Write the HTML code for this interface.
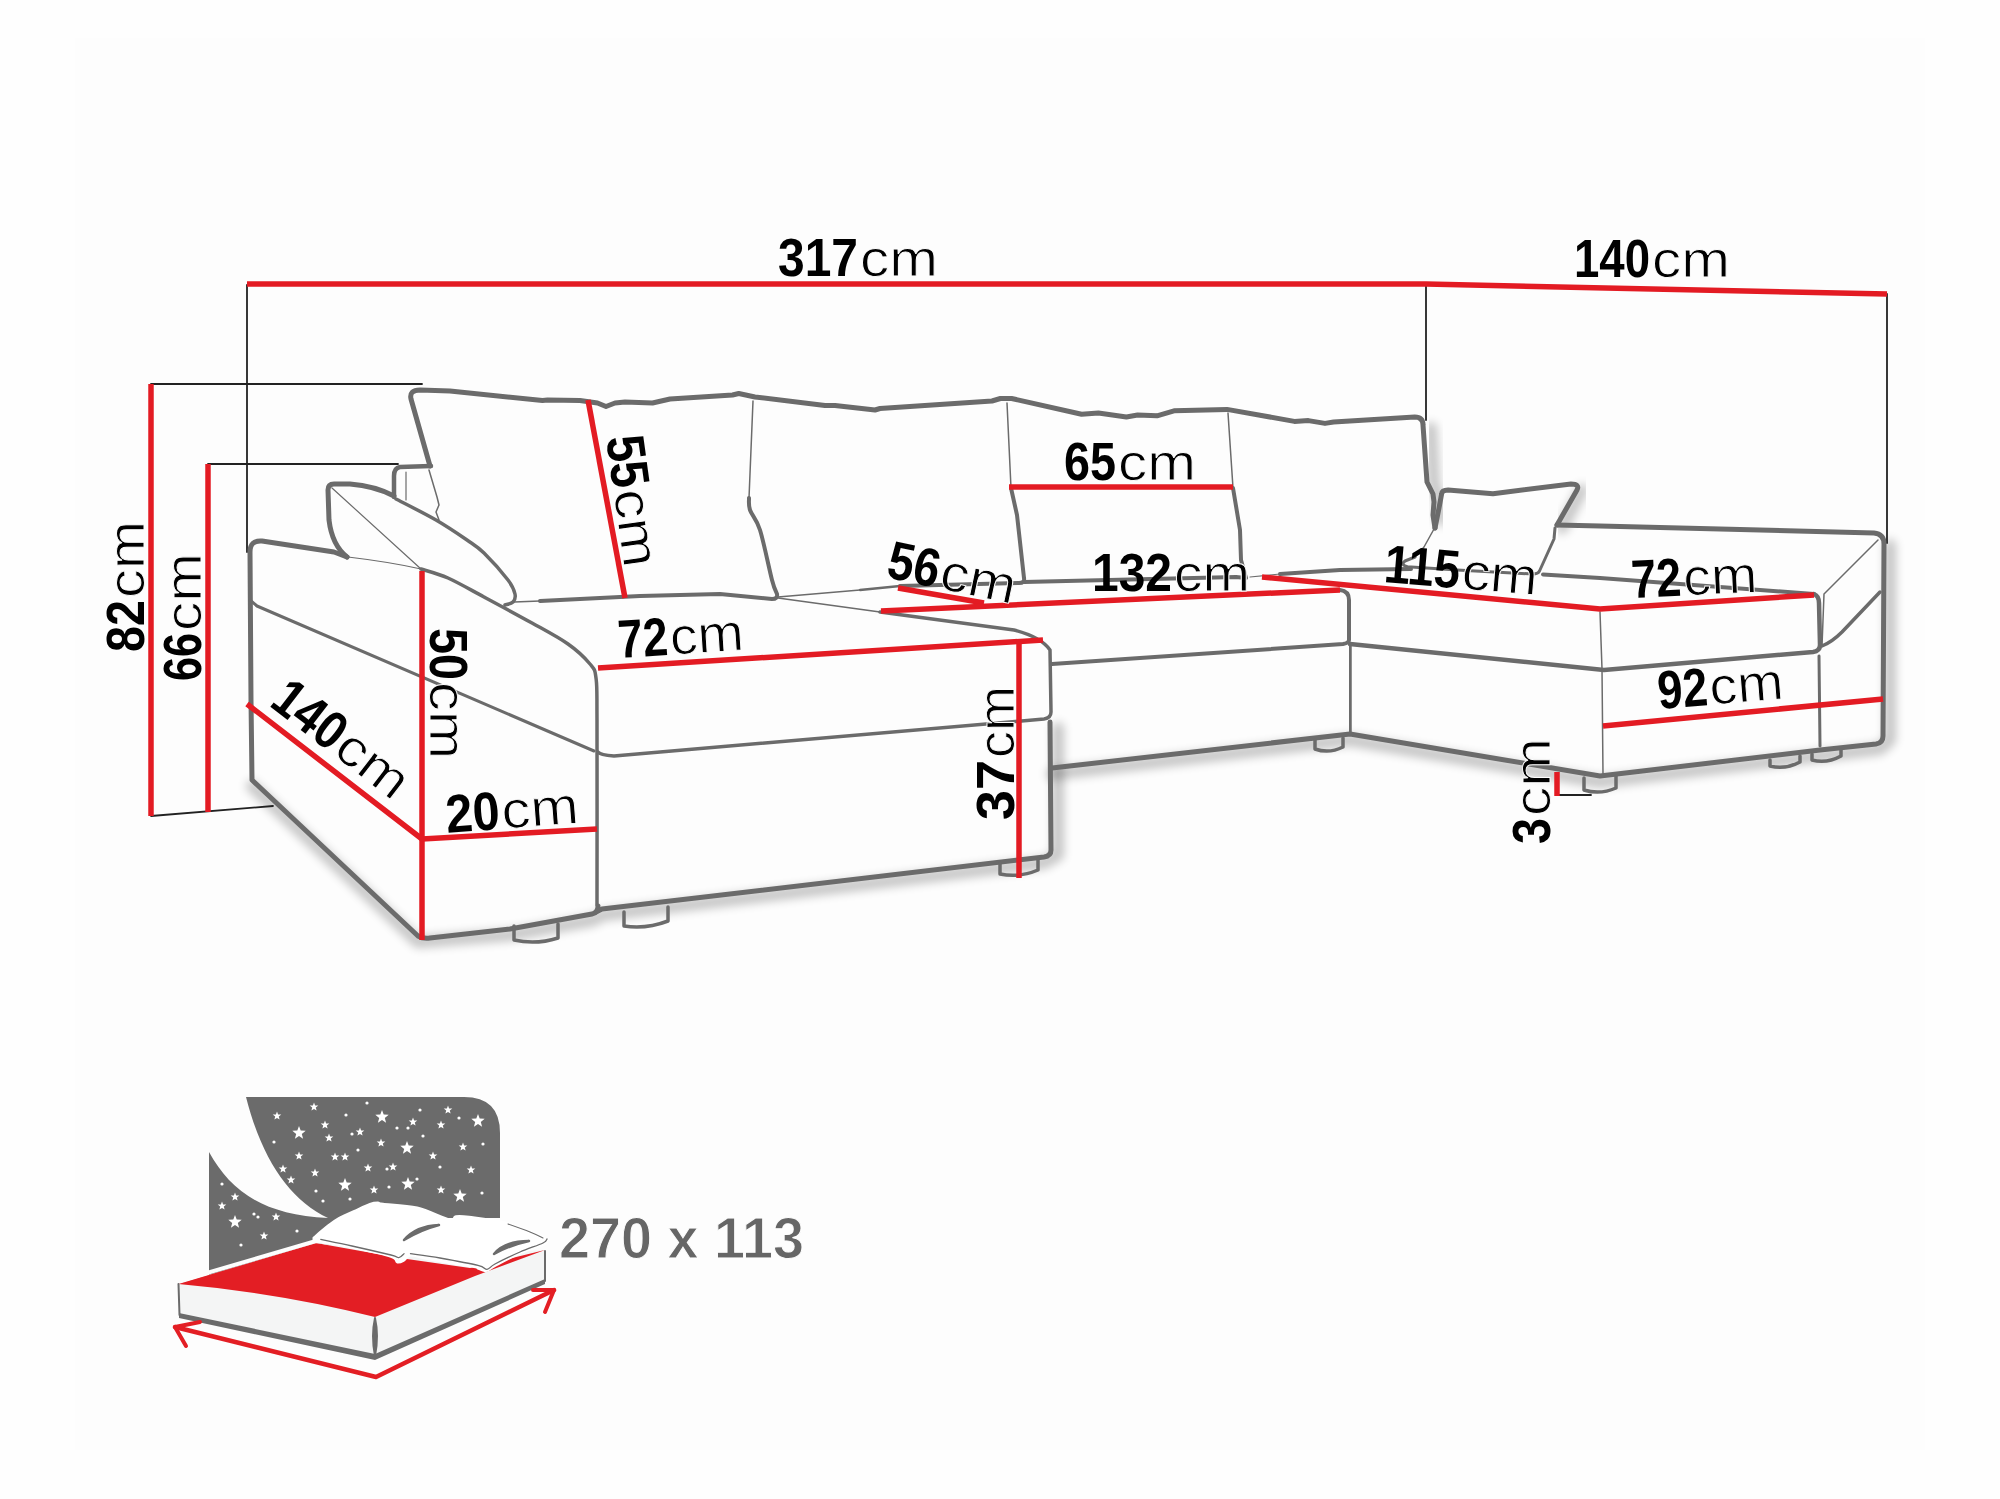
<!DOCTYPE html>
<html><head><meta charset="utf-8"><style>
html,body{margin:0;padding:0;background:#fefefe;}
svg{display:block;}
text{font-family:"Liberation Sans",sans-serif;}
</style></head><body>
<svg width="2000" height="1499" viewBox="0 0 2000 1499">
<rect x="0" y="0" width="2000" height="1499" fill="#fefefe"/>
<rect x="75" y="38" width="1850" height="1412" fill="#fdfdfd"/>
<defs><filter id="blur" x="-20%" y="-50%" width="140%" height="200%"><feGaussianBlur stdDeviation="5"/></filter></defs>
<g fill="none" stroke-linecap="round" stroke-linejoin="round">
<path d="M 252 786 L 418 942 L 510 935 L 594 920 L 602 915 L 1044 863 L 1058 855 L 1058 728" stroke="#000" stroke-width="12" opacity="0.22" filter="url(#blur)"/>
<path d="M 1052 774 L 1350 740 L 1600 782 L 1820 756 L 1880 749 L 1890 740 L 1890 545" stroke="#000" stroke-width="12" opacity="0.22" filter="url(#blur)"/>
<path d="M 1431 428 L 1434 484 L 1440 500 L 1441 520" stroke="#000" stroke-width="12" opacity="0.22" filter="url(#blur)"/>
<path d="M 1582 490 L 1562 528" stroke="#000" stroke-width="12" opacity="0.22" filter="url(#blur)"/>
<path d="M 247 285 L 247 552" stroke="#222" stroke-width="1.8" />
<path d="M 151 384 L 422 384" stroke="#222" stroke-width="1.8" />
<path d="M 208 464 L 398 464" stroke="#222" stroke-width="1.8" />
<path d="M 151 816 L 273 806" stroke="#222" stroke-width="1.8" />
<path d="M 1426 285 L 1426 420" stroke="#222" stroke-width="1.8" />
<path d="M 1887 294 L 1887 543" stroke="#222" stroke-width="1.8" />
<path d="M 1557 795 L 1591 795" stroke="#222" stroke-width="1.8" />
<path d="M 430 466 L 411 399 Q 409 390 420 390 L 450 391 L 542.5 400.5 L 547.5 400 L 580 400.5 L 597.5 403 L 606 406.5 L 615 403 L 625 402 L 652.5 403 L 670 399 L 732.5 395 L 738.75 393.5 L 755 397 L 825 405.5 L 835 405.5 L 875 410 L 880 408.5 L 992 401 L 1000.4 398.5 L 1011.6 398.5 L 1081.6 414.2 L 1098.4 413 L 1126.4 417 L 1137.6 415 L 1157 415.8 L 1174 410.8 L 1227 409.4 L 1294.4 421.4 L 1308.4 420.6 L 1325 423.4 L 1333.6 422 L 1414.8 417 Q 1423 417 1423 425 L 1427 482 L 1433 494 L 1434 502 L 1433 515 L 1435 528" stroke="#6b6b6b" stroke-width="5" />
<path d="M 431 466 L 400 467 Q 394 468 394 476 L 394 497" stroke="#6b6b6b" stroke-width="4.5" />
<path d="M 347 557 Q 332 545 329 520 L 328 490 Q 328 484 334 484 L 350 484 Q 375 486 394 496" stroke="#6b6b6b" stroke-width="5" />
<path d="M 396 499 C 402.7 502.5 424.2 513.2 436.0 520.0 C 447.8 526.8 459.0 534.5 467.0 540.0 C 475.0 545.5 477.2 546.3 484.0 553.0 C 490.8 559.7 502.8 573.2 508.0 580.0 C 513.2 586.8 514.2 590.3 515.0 594.0 C 515.8 597.7 514.7 600.2 513.0 602.0 C 511.3 603.8 506.3 604.5 505.0 605.0 " stroke="#6b6b6b" stroke-width="3.5" />
<path d="M 332 488 L 421 569" stroke="#6b6b6b" stroke-width="1.2" />
<path d="M 348 557 Q 390 562 421 569" stroke="#6b6b6b" stroke-width="1.2" />
<path d="M 421 569 C 425.5 570.5 437.5 573.3 448.0 578.0 C 458.5 582.7 470.0 589.5 484.0 597.0 C 498.0 604.5 518.0 615.2 532.0 623.0 C 546.0 630.8 558.3 637.2 568.0 644.0 C 577.7 650.8 585.3 658.3 590.0 664.0 C 594.7 669.7 594.8 668.7 596.0 678.0 C 597.2 687.3 596.8 682.2 597.0 720.0 C 597.2 757.8 597.0 874.2 597.0 905.0 " stroke="#6b6b6b" stroke-width="3.5" />
<path d="M 347 557 L 334 552 L 262 541 Q 250 540 250 552 L 251 700 L 252 780 L 418 936 Q 423 939 430 938 L 510 929 L 592 914 Q 598 913 598 906" stroke="#6b6b6b" stroke-width="5" />
<path d="M 250 600 L 257 606 L 594 751" stroke="#6b6b6b" stroke-width="3" />
<path d="M 406 472 L 406 500" stroke="#6b6b6b" stroke-width="1.2" />
<path d="M 429 470 L 437 497 L 439 505 L 436 512 L 439 520" stroke="#6b6b6b" stroke-width="1.5" />
<path d="M 753 401 L 749 498" stroke="#6b6b6b" stroke-width="1.5" />
<path d="M 749 498 C 749.2 500.0 748.2 504.7 750.0 510.0 C 751.8 515.3 756.3 518.3 760.0 530.0 C 763.7 541.7 769.2 569.3 772.0 580.0 C 774.8 590.7 776.2 591.7 777.0 594.0  Q 778 599 772 599 L 720 594 L 640 596 L 580 599 L 540 601" stroke="#6b6b6b" stroke-width="4" />
<path d="M 540 601 L 514 602" stroke="#6b6b6b" stroke-width="1.5" />
<path d="M 1007 403 L 1011 488" stroke="#6b6b6b" stroke-width="1.5" />
<path d="M 1011 488 L 1017 515 L 1024 578 Q 1025 583 1019 583 L 900 586" stroke="#6b6b6b" stroke-width="4" />
<path d="M 900 586 L 860 590" stroke="#6b6b6b" stroke-width="2.5" />
<path d="M 860 590 L 778 597" stroke="#6b6b6b" stroke-width="1.5" />
<path d="M 1228 413 L 1233 488" stroke="#6b6b6b" stroke-width="1.5" />
<path d="M 1233 488 L 1240 530 L 1241 560 L 1246 578 L 1236 577 L 1024 582" stroke="#6b6b6b" stroke-width="4" />
<path d="M 1250 577 L 1280 574" stroke="#6b6b6b" stroke-width="1.2" />
<path d="M 1280 574 L 1340 570 L 1411 569" stroke="#6b6b6b" stroke-width="4" />
<path d="M 1435 528 L 1439 508 L 1441.6 494 Q 1442 490 1448 490 L 1493 493.7 L 1571 484 Q 1580 484 1577 490 L 1557 525" stroke="#6b6b6b" stroke-width="5" />
<path d="M 1555 528 L 1554 539 L 1539.5 571 Q 1538 574 1533 574 L 1457 570 L 1407.5 566.8 Q 1400 565 1405 561 L 1415 557" stroke="#6b6b6b" stroke-width="3" />
<path d="M 1434 529 L 1424 547 L 1416 556" stroke="#6b6b6b" stroke-width="1.5" />
<path d="M 1557 525 L 1600 526 L 1874 533 Q 1884 534 1884 544 L 1883 736 Q 1883 743 1876 744 L 1820 750 L 1600 776 L 1350 734 L 1052 768" stroke="#6b6b6b" stroke-width="5" />
<path d="M 1543 574.5 L 1600 578 L 1814 594" stroke="#6b6b6b" stroke-width="4" />
<path d="M 1814 594 Q 1819 596 1819 603 L 1820 645 Q 1820 651 1813 652 L 1604 670 L 1350 644" stroke="#6b6b6b" stroke-width="4.5" />
<path d="M 1600 612 L 1602 669 L 1603 775" stroke="#6b6b6b" stroke-width="1.5" />
<path d="M 1878 540 L 1824 594 L 1822 646" stroke="#6b6b6b" stroke-width="1.5" />
<path d="M 1822 646 Q 1832 642 1842 632 L 1880 592" stroke="#6b6b6b" stroke-width="3.5" />
<path d="M 1819 656 L 1820 746" stroke="#6b6b6b" stroke-width="3" />
<path d="M 1350 646 L 1350 734" stroke="#6b6b6b" stroke-width="2" />
<path d="M 1340 590 Q 1349 591 1349 600 L 1349 640 Q 1349 643 1343 644 L 1052 664" stroke="#6b6b6b" stroke-width="4" />
<path d="M 1351 646 L 1351 734" stroke="#6b6b6b" stroke-width="1.5" />
<path d="M 778 598 L 880 612" stroke="#6b6b6b" stroke-width="1.5" />
<path d="M 880 612 L 1014 630 Q 1041 637 1050 650 L 1051 712 Q 1051 718 1044 719 L 614 756 Q 600 755 598 752" stroke="#6b6b6b" stroke-width="3.5" />
<path d="M 1050 722 L 1051 850 Q 1051 856 1044 857 L 602 909 L 596 912" stroke="#6b6b6b" stroke-width="5" />
<path d="M 514 926 L 514 940 Q 536 945 558 938 L 558 924" stroke="#6b6b6b" stroke-width="3.5" />
<path d="M 624 912 L 624 926 Q 646 929.5 668 921 L 668 907" stroke="#6b6b6b" stroke-width="3.5" />
<path d="M 1000 863 L 1000 874 Q 1019 878 1038 870 L 1038 859" stroke="#6b6b6b" stroke-width="3.5" />
<path d="M 1315 740 L 1315 749 Q 1329 754 1343 747 L 1343 738" stroke="#6b6b6b" stroke-width="3.5" />
<path d="M 1584 778 L 1584 790 Q 1600 795 1616 788 L 1616 776" stroke="#6b6b6b" stroke-width="3.5" />
<path d="M 1770 760 L 1770 766 Q 1785 770 1800 762 L 1800 756" stroke="#6b6b6b" stroke-width="3.5" />
<path d="M 1812 754 L 1812 760 Q 1826.5 764 1841 756 L 1841 750" stroke="#6b6b6b" stroke-width="3.5" />
<path d="M 247 284 L 1426 284 L 1887 294" stroke="#e31b23" stroke-width="5.5" stroke-linecap="butt"/>
<path d="M 151 384 L 151 816" stroke="#e31b23" stroke-width="5.5" stroke-linecap="butt"/>
<path d="M 208 464 L 208 812" stroke="#e31b23" stroke-width="5.5" stroke-linecap="butt"/>
<path d="M 588 400 L 625 598" stroke="#e31b23" stroke-width="5.5" stroke-linecap="butt"/>
<path d="M 1009 487 L 1233 487" stroke="#e31b23" stroke-width="5.5" stroke-linecap="butt"/>
<path d="M 898 588 L 984 603" stroke="#e31b23" stroke-width="5.5" stroke-linecap="butt"/>
<path d="M 881 611 L 1340 590" stroke="#e31b23" stroke-width="5.5" stroke-linecap="butt"/>
<path d="M 598 668 L 1043 640" stroke="#e31b23" stroke-width="5.5" stroke-linecap="butt"/>
<path d="M 422 571 L 422 940" stroke="#e31b23" stroke-width="5.5" stroke-linecap="butt"/>
<path d="M 247 704 L 422 839 L 597 829" stroke="#e31b23" stroke-width="5.5" stroke-linecap="butt"/>
<path d="M 1019 643 L 1019 878" stroke="#e31b23" stroke-width="5.5" stroke-linecap="butt"/>
<path d="M 1262 577 L 1600 609 L 1814 595" stroke="#e31b23" stroke-width="5.5" stroke-linecap="butt"/>
<path d="M 1603 726 L 1883 699" stroke="#e31b23" stroke-width="5.5" stroke-linecap="butt"/>
<path d="M 1557 772 L 1557 796" stroke="#e31b23" stroke-width="5.5" stroke-linecap="butt"/>
</g>
<g transform="translate(778 276) rotate(0)"><text x="0" y="0" fill="#000" font-weight="bold" font-size="54" textLength="80" lengthAdjust="spacingAndGlyphs">317</text><text x="82" y="0" fill="#000" stroke="#fdfdfd" stroke-width="0.9" font-size="52" textLength="78" lengthAdjust="spacingAndGlyphs">cm</text></g>
<g transform="translate(1574 277) rotate(0)"><text x="0" y="0" fill="#000" font-weight="bold" font-size="54" textLength="76" lengthAdjust="spacingAndGlyphs">140</text><text x="78" y="0" fill="#000" stroke="#fdfdfd" stroke-width="0.9" font-size="52" textLength="78" lengthAdjust="spacingAndGlyphs">cm</text></g>
<g transform="translate(144 652) rotate(-90)"><text x="0" y="0" fill="#000" font-weight="bold" font-size="54" textLength="52" lengthAdjust="spacingAndGlyphs">82</text><text x="54" y="0" fill="#000" stroke="#fdfdfd" stroke-width="0.9" font-size="52" textLength="77" lengthAdjust="spacingAndGlyphs">cm</text></g>
<g transform="translate(201 681) rotate(-90)"><text x="0" y="0" fill="#000" font-weight="bold" font-size="54" textLength="48" lengthAdjust="spacingAndGlyphs">66</text><text x="50" y="0" fill="#000" stroke="#fdfdfd" stroke-width="0.9" font-size="52" textLength="78" lengthAdjust="spacingAndGlyphs">cm</text></g>
<g transform="translate(1014 820) rotate(-90)"><text x="0" y="0" fill="#000" font-weight="bold" font-size="54" textLength="60" lengthAdjust="spacingAndGlyphs">37</text><text x="62" y="0" fill="#000" stroke="#fdfdfd" stroke-width="0.9" font-size="52" textLength="72" lengthAdjust="spacingAndGlyphs">cm</text></g>
<g transform="translate(1550 844) rotate(-90)"><text x="0" y="0" fill="#000" font-weight="bold" font-size="54" textLength="26" lengthAdjust="spacingAndGlyphs">3</text><text x="28" y="0" fill="#000" stroke="#fdfdfd" stroke-width="0.9" font-size="52" textLength="78" lengthAdjust="spacingAndGlyphs">cm</text></g>
<g transform="translate(430 628) rotate(90)"><text x="0" y="0" fill="#000" font-weight="bold" font-size="54" textLength="52" lengthAdjust="spacingAndGlyphs">50</text><text x="54" y="0" fill="#000" stroke="#fdfdfd" stroke-width="0.9" font-size="52" textLength="77" lengthAdjust="spacingAndGlyphs">cm</text></g>
<g transform="translate(606 438) rotate(82)"><text x="0" y="0" fill="#000" font-weight="bold" font-size="54" textLength="52" lengthAdjust="spacingAndGlyphs">55</text><text x="54" y="0" fill="#000" stroke="#fdfdfd" stroke-width="0.9" font-size="52" textLength="78" lengthAdjust="spacingAndGlyphs">cm</text></g>
<g transform="translate(1064 480) rotate(0)"><text x="0" y="0" fill="#000" font-weight="bold" font-size="54" textLength="52" lengthAdjust="spacingAndGlyphs">65</text><text x="54" y="0" fill="#000" stroke="#fdfdfd" stroke-width="0.9" font-size="52" textLength="78" lengthAdjust="spacingAndGlyphs">cm</text></g>
<g transform="translate(1092 591) rotate(0)"><text x="0" y="0" fill="#000" font-weight="bold" font-size="54" textLength="80" lengthAdjust="spacingAndGlyphs">132</text><text x="82" y="0" fill="#000" stroke="#fdfdfd" stroke-width="0.9" font-size="52" textLength="76" lengthAdjust="spacingAndGlyphs">cm</text></g>
<g transform="translate(619 658) rotate(-3.7)"><text x="0" y="0" fill="#000" font-weight="bold" font-size="54" textLength="50" lengthAdjust="spacingAndGlyphs">72</text><text x="52" y="0" fill="#000" stroke="#fdfdfd" stroke-width="0.9" font-size="52" textLength="74" lengthAdjust="spacingAndGlyphs">cm</text></g>
<g transform="translate(1632 598) rotate(-2.7)"><text x="0" y="0" fill="#000" font-weight="bold" font-size="54" textLength="50" lengthAdjust="spacingAndGlyphs">72</text><text x="52" y="0" fill="#000" stroke="#fdfdfd" stroke-width="0.9" font-size="52" textLength="74" lengthAdjust="spacingAndGlyphs">cm</text></g>
<g transform="translate(1659 709) rotate(-4.6)"><text x="0" y="0" fill="#000" font-weight="bold" font-size="54" textLength="50" lengthAdjust="spacingAndGlyphs">92</text><text x="52" y="0" fill="#000" stroke="#fdfdfd" stroke-width="0.9" font-size="52" textLength="74" lengthAdjust="spacingAndGlyphs">cm</text></g>
<g transform="translate(447 833) rotate(-4.4)"><text x="0" y="0" fill="#000" font-weight="bold" font-size="54" textLength="54" lengthAdjust="spacingAndGlyphs">20</text><text x="56" y="0" fill="#000" stroke="#fdfdfd" stroke-width="0.9" font-size="52" textLength="77" lengthAdjust="spacingAndGlyphs">cm</text></g>
<g transform="translate(885 577) rotate(12)"><text x="0" y="0" fill="#000" font-weight="bold" font-size="54" textLength="52" lengthAdjust="spacingAndGlyphs">56</text><text x="54" y="0" fill="#000" stroke="#fdfdfd" stroke-width="0.9" font-size="52" textLength="76" lengthAdjust="spacingAndGlyphs">cm</text></g>
<g transform="translate(1383 582) rotate(4.9)"><text x="0" y="0" fill="#000" font-weight="bold" font-size="54" textLength="76" lengthAdjust="spacingAndGlyphs">115</text><text x="78" y="0" fill="#000" stroke="#fdfdfd" stroke-width="0.9" font-size="52" textLength="76" lengthAdjust="spacingAndGlyphs">cm</text></g>
<g transform="translate(268 705) rotate(37.6)"><text x="0" y="0" fill="#000" font-weight="bold" font-size="54" textLength="78" lengthAdjust="spacingAndGlyphs">140</text><text x="80" y="0" fill="#000" stroke="#fdfdfd" stroke-width="0.9" font-size="52" textLength="78" lengthAdjust="spacingAndGlyphs">cm</text></g>
<g fill="none" stroke-linecap="round" stroke-linejoin="round">
<path d="M 246 1097 L 464 1097 Q 500 1097 500 1133 L 500 1218 L 380 1218 L 320 1250 L 209 1275 L 209 1152
 C 230 1190 262 1215 328 1218 C 290 1200 262 1160 246 1097 Z" fill="#6b6b6b"/>
<path d="M 299 1126 L 300.7 1130.6 L 305.7 1130.8 L 301.8 1133.9 L 303.1 1138.7 L 299 1135.9 L 294.9 1138.7 L 296.2 1133.9 L 292.3 1130.8 L 297.3 1130.6 Z" fill="#fff"/>
<path d="M 382 1110 L 383.7 1114.6 L 388.7 1114.8 L 384.8 1117.9 L 386.1 1122.7 L 382 1119.9 L 377.9 1122.7 L 379.2 1117.9 L 375.3 1114.8 L 380.3 1114.6 Z" fill="#fff"/>
<path d="M 407 1141 L 408.7 1145.6 L 413.7 1145.8 L 409.8 1148.9 L 411.1 1153.7 L 407 1150.9 L 402.9 1153.7 L 404.2 1148.9 L 400.3 1145.8 L 405.3 1145.6 Z" fill="#fff"/>
<path d="M 478 1114 L 479.7 1118.6 L 484.7 1118.8 L 480.8 1121.9 L 482.1 1126.7 L 478 1123.9 L 473.9 1126.7 L 475.2 1121.9 L 471.3 1118.8 L 476.3 1118.6 Z" fill="#fff"/>
<path d="M 345 1178 L 346.7 1182.6 L 351.7 1182.8 L 347.8 1185.9 L 349.1 1190.7 L 345 1187.9 L 340.9 1190.7 L 342.2 1185.9 L 338.3 1182.8 L 343.3 1182.6 Z" fill="#fff"/>
<path d="M 408 1177 L 409.7 1181.6 L 414.7 1181.8 L 410.8 1184.9 L 412.1 1189.7 L 408 1186.9 L 403.9 1189.7 L 405.2 1184.9 L 401.3 1181.8 L 406.3 1181.6 Z" fill="#fff"/>
<path d="M 460 1189 L 461.7 1193.6 L 466.7 1193.8 L 462.8 1196.9 L 464.1 1201.7 L 460 1198.9 L 455.9 1201.7 L 457.2 1196.9 L 453.3 1193.8 L 458.3 1193.6 Z" fill="#fff"/>
<path d="M 235 1215 L 236.7 1219.6 L 241.7 1219.8 L 237.8 1222.9 L 239.1 1227.7 L 235 1224.9 L 230.9 1227.7 L 232.2 1222.9 L 228.3 1219.8 L 233.3 1219.6 Z" fill="#fff"/>
<path d="M 314 1102.5 L 315.1 1105.5 L 318.3 1105.6 L 315.8 1107.6 L 316.6 1110.6 L 314 1108.9 L 311.4 1110.6 L 312.2 1107.6 L 309.7 1105.6 L 312.9 1105.5 Z" fill="#fff"/>
<path d="M 277 1111.5 L 278.1 1114.5 L 281.3 1114.6 L 278.8 1116.6 L 279.6 1119.6 L 277 1117.9 L 274.4 1119.6 L 275.2 1116.6 L 272.7 1114.6 L 275.9 1114.5 Z" fill="#fff"/>
<path d="M 325 1120.5 L 326.1 1123.5 L 329.3 1123.6 L 326.8 1125.6 L 327.6 1128.6 L 325 1126.9 L 322.4 1128.6 L 323.2 1125.6 L 320.7 1123.6 L 323.9 1123.5 Z" fill="#fff"/>
<path d="M 329 1133.5 L 330.1 1136.5 L 333.3 1136.6 L 330.8 1138.6 L 331.6 1141.6 L 329 1139.9 L 326.4 1141.6 L 327.2 1138.6 L 324.7 1136.6 L 327.9 1136.5 Z" fill="#fff"/>
<path d="M 360 1127.5 L 361.1 1130.5 L 364.3 1130.6 L 361.8 1132.6 L 362.6 1135.6 L 360 1133.9 L 357.4 1135.6 L 358.2 1132.6 L 355.7 1130.6 L 358.9 1130.5 Z" fill="#fff"/>
<path d="M 413 1117.5 L 414.1 1120.5 L 417.3 1120.6 L 414.8 1122.6 L 415.6 1125.6 L 413 1123.9 L 410.4 1125.6 L 411.2 1122.6 L 408.7 1120.6 L 411.9 1120.5 Z" fill="#fff"/>
<path d="M 441 1120.5 L 442.1 1123.5 L 445.3 1123.6 L 442.8 1125.6 L 443.6 1128.6 L 441 1126.9 L 438.4 1128.6 L 439.2 1125.6 L 436.7 1123.6 L 439.9 1123.5 Z" fill="#fff"/>
<path d="M 448 1105.5 L 449.1 1108.5 L 452.3 1108.6 L 449.8 1110.6 L 450.6 1113.6 L 448 1111.9 L 445.4 1113.6 L 446.2 1110.6 L 443.7 1108.6 L 446.9 1108.5 Z" fill="#fff"/>
<path d="M 381 1138.5 L 382.1 1141.5 L 385.3 1141.6 L 382.8 1143.6 L 383.6 1146.6 L 381 1144.9 L 378.4 1146.6 L 379.2 1143.6 L 376.7 1141.6 L 379.9 1141.5 Z" fill="#fff"/>
<path d="M 463 1142.5 L 464.1 1145.5 L 467.3 1145.6 L 464.8 1147.6 L 465.6 1150.6 L 463 1148.9 L 460.4 1150.6 L 461.2 1147.6 L 458.7 1145.6 L 461.9 1145.5 Z" fill="#fff"/>
<path d="M 299 1151.5 L 300.1 1154.5 L 303.3 1154.6 L 300.8 1156.6 L 301.6 1159.6 L 299 1157.9 L 296.4 1159.6 L 297.2 1156.6 L 294.7 1154.6 L 297.9 1154.5 Z" fill="#fff"/>
<path d="M 335 1152.5 L 336.1 1155.5 L 339.3 1155.6 L 336.8 1157.6 L 337.6 1160.6 L 335 1158.9 L 332.4 1160.6 L 333.2 1157.6 L 330.7 1155.6 L 333.9 1155.5 Z" fill="#fff"/>
<path d="M 345 1152.5 L 346.1 1155.5 L 349.3 1155.6 L 346.8 1157.6 L 347.6 1160.6 L 345 1158.9 L 342.4 1160.6 L 343.2 1157.6 L 340.7 1155.6 L 343.9 1155.5 Z" fill="#fff"/>
<path d="M 433 1151.5 L 434.1 1154.5 L 437.3 1154.6 L 434.8 1156.6 L 435.6 1159.6 L 433 1157.9 L 430.4 1159.6 L 431.2 1156.6 L 428.7 1154.6 L 431.9 1154.5 Z" fill="#fff"/>
<path d="M 283 1164.5 L 284.1 1167.5 L 287.3 1167.6 L 284.8 1169.6 L 285.6 1172.6 L 283 1170.9 L 280.4 1172.6 L 281.2 1169.6 L 278.7 1167.6 L 281.9 1167.5 Z" fill="#fff"/>
<path d="M 315 1168.5 L 316.1 1171.5 L 319.3 1171.6 L 316.8 1173.6 L 317.6 1176.6 L 315 1174.9 L 312.4 1176.6 L 313.2 1173.6 L 310.7 1171.6 L 313.9 1171.5 Z" fill="#fff"/>
<path d="M 368 1163.5 L 369.1 1166.5 L 372.3 1166.6 L 369.8 1168.6 L 370.6 1171.6 L 368 1169.9 L 365.4 1171.6 L 366.2 1168.6 L 363.7 1166.6 L 366.9 1166.5 Z" fill="#fff"/>
<path d="M 393 1162.5 L 394.1 1165.5 L 397.3 1165.6 L 394.8 1167.6 L 395.6 1170.6 L 393 1168.9 L 390.4 1170.6 L 391.2 1167.6 L 388.7 1165.6 L 391.9 1165.5 Z" fill="#fff"/>
<path d="M 471 1165.5 L 472.1 1168.5 L 475.3 1168.6 L 472.8 1170.6 L 473.6 1173.6 L 471 1171.9 L 468.4 1173.6 L 469.2 1170.6 L 466.7 1168.6 L 469.9 1168.5 Z" fill="#fff"/>
<path d="M 291 1175.5 L 292.1 1178.5 L 295.3 1178.6 L 292.8 1180.6 L 293.6 1183.6 L 291 1181.9 L 288.4 1183.6 L 289.2 1180.6 L 286.7 1178.6 L 289.9 1178.5 Z" fill="#fff"/>
<path d="M 374 1185.5 L 375.1 1188.5 L 378.3 1188.6 L 375.8 1190.6 L 376.6 1193.6 L 374 1191.9 L 371.4 1193.6 L 372.2 1190.6 L 369.7 1188.6 L 372.9 1188.5 Z" fill="#fff"/>
<path d="M 441 1185.5 L 442.1 1188.5 L 445.3 1188.6 L 442.8 1190.6 L 443.6 1193.6 L 441 1191.9 L 438.4 1193.6 L 439.2 1190.6 L 436.7 1188.6 L 439.9 1188.5 Z" fill="#fff"/>
<path d="M 235 1192.5 L 236.1 1195.5 L 239.3 1195.6 L 236.8 1197.6 L 237.6 1200.6 L 235 1198.9 L 232.4 1200.6 L 233.2 1197.6 L 230.7 1195.6 L 233.9 1195.5 Z" fill="#fff"/>
<path d="M 222 1201.5 L 223.1 1204.5 L 226.3 1204.6 L 223.8 1206.6 L 224.6 1209.6 L 222 1207.9 L 219.4 1209.6 L 220.2 1206.6 L 217.7 1204.6 L 220.9 1204.5 Z" fill="#fff"/>
<path d="M 276 1212.5 L 277.1 1215.5 L 280.3 1215.6 L 277.8 1217.6 L 278.6 1220.6 L 276 1218.9 L 273.4 1220.6 L 274.2 1217.6 L 271.7 1215.6 L 274.9 1215.5 Z" fill="#fff"/>
<path d="M 264 1231.5 L 265.1 1234.5 L 268.3 1234.6 L 265.8 1236.6 L 266.6 1239.6 L 264 1237.9 L 261.4 1239.6 L 262.2 1236.6 L 259.7 1234.6 L 262.9 1234.5 Z" fill="#fff"/>
<circle cx="367" cy="1103" r="1.6" fill="#fff"/>
<circle cx="346" cy="1115" r="1.6" fill="#fff"/>
<circle cx="420" cy="1110" r="1.6" fill="#fff"/>
<circle cx="459" cy="1118" r="1.6" fill="#fff"/>
<circle cx="397" cy="1128" r="1.6" fill="#fff"/>
<circle cx="408" cy="1128" r="1.6" fill="#fff"/>
<circle cx="352" cy="1134" r="1.6" fill="#fff"/>
<circle cx="274" cy="1142" r="1.6" fill="#fff"/>
<circle cx="423" cy="1136" r="1.6" fill="#fff"/>
<circle cx="483" cy="1144" r="1.6" fill="#fff"/>
<circle cx="358" cy="1150" r="1.6" fill="#fff"/>
<circle cx="440" cy="1167" r="1.6" fill="#fff"/>
<circle cx="387" cy="1169" r="1.6" fill="#fff"/>
<circle cx="417" cy="1179" r="1.6" fill="#fff"/>
<circle cx="316" cy="1191" r="1.6" fill="#fff"/>
<circle cx="389" cy="1187" r="1.6" fill="#fff"/>
<circle cx="323" cy="1201" r="1.6" fill="#fff"/>
<circle cx="350" cy="1199" r="1.6" fill="#fff"/>
<circle cx="482" cy="1193" r="1.6" fill="#fff"/>
<circle cx="222" cy="1184" r="1.6" fill="#fff"/>
<circle cx="254" cy="1214" r="1.6" fill="#fff"/>
<circle cx="258" cy="1217" r="1.6" fill="#fff"/>
<circle cx="297" cy="1231" r="1.6" fill="#fff"/>
<circle cx="241" cy="1245" r="1.6" fill="#fff"/>
<path d="M 178.5 1284 L 316 1243 L 420 1256 L 545 1250 L 545 1279 L 375 1355 L 179.5 1313 Z" fill="#f4f5f5"/>
<path d="M 178.5 1284 L 316 1243 L 400 1258 L 470 1268 L 545 1250 L 475 1276 L 375 1317 Q 280 1293 178.5 1284 Z" fill="#e31e24"/>
<path d="M 176 1282 L 316 1241 L 330 1243" stroke="#fdfdfd" stroke-width="4"/>
<path d="M 179 1313 L 375 1354 L 545 1279 L 545 1284 L 375 1360 L 179 1318 Z" fill="#6b6b6b"/>
<path d="M 178.5 1284 L 179.5 1315" stroke="#6b6b6b" stroke-width="2"/>
<path d="M 545 1251 L 545 1281" stroke="#6b6b6b" stroke-width="2"/>
<path d="M 375 1318 Q 371 1336 375 1356 Q 379 1336 375 1318 Z" fill="#6b6b6b" stroke="#6b6b6b" stroke-width="2"/>
<path d="M 314 1238 C 316.0 1236.3 321.8 1230.9 326.0 1227.7 C 330.2 1224.5 333.6 1221.6 339.0 1218.6 C 344.4 1215.6 353.3 1211.9 358.5 1209.5 C 363.7 1207.1 366.8 1205.4 370.0 1204.3 C 373.2 1203.2 375.8 1203.0 378.0 1203.0 C 380.2 1203.0 376.5 1203.5 383.0 1204.3 C 389.5 1205.1 405.9 1205.4 417.0 1208.0 C 428.1 1210.6 443.0 1218.5 449.5 1220.0 C 456.0 1221.5 452.8 1217.2 456.0 1216.7 C 459.2 1216.2 460.3 1216.1 469.0 1217.3 C 477.7 1218.5 495.4 1220.3 508.0 1223.8 C 520.6 1227.2 538.0 1235.2 544.5 1238.0 C 551.0 1240.8 547.2 1239.6 547.0 1240.7 C 546.8 1241.8 547.3 1242.6 543.0 1244.6 C 538.7 1246.5 529.0 1248.9 521.0 1252.4 C 513.0 1255.9 500.8 1262.4 495.0 1265.4 C 489.2 1268.4 488.8 1270.2 486.0 1270.6 C 483.2 1271.0 479.8 1268.7 478.0 1268.0 C 476.2 1267.3 483.5 1268.2 475.5 1266.7 C 467.5 1265.2 440.8 1261.0 430.0 1259.0 C 419.2 1257.0 414.8 1254.8 410.5 1255.0 C 406.2 1255.2 406.2 1258.8 404.0 1260.0 C 401.8 1261.2 399.7 1262.6 397.5 1262.0 C 395.3 1261.4 398.6 1258.8 391.0 1256.3 C 383.4 1253.8 364.8 1249.8 352.0 1247.0 C 339.2 1244.2 320.3 1240.7 314.0 1239.4  Z" fill="#fff" stroke="#fff" stroke-width="3"/><path d="M 320.8 1239.4 C 326.0 1240.5 340.3 1243.4 352.0 1246.0 C 363.7 1248.6 383.2 1253.1 391.0 1255.0 C 398.8 1256.9 396.6 1257.8 398.8 1257.6 C 401.0 1257.4 403.1 1254.3 404.0 1253.7 " stroke="#6b6b6b" stroke-width="1.3"/><path d="M 410.5 1253.7 C 415.4 1254.4 428.8 1256.0 440.0 1258.0 C 451.2 1260.0 470.2 1263.5 478.0 1265.4 C 485.8 1267.3 484.2 1269.5 487.0 1269.3 C 489.8 1269.1 489.5 1266.9 495.0 1264.0 C 500.5 1261.1 512.0 1255.5 520.0 1252.0 C 528.0 1248.5 538.5 1245.2 543.0 1243.0 C 547.5 1240.8 546.3 1239.7 547.0 1239.0 " stroke="#6b6b6b" stroke-width="1.3"/><path d="M 508 1224 C 511.7 1225.3 524.2 1229.7 530.0 1232.0 C 535.8 1234.3 540.8 1237.0 543.0 1238.0 " stroke="#6b6b6b" stroke-width="1.1"/><path d="M 404 1240 Q 416 1226 439 1225 Q 420 1230 404 1240 Z" fill="#6b6b6b" stroke="#6b6b6b" stroke-width="2.5"/><path d="M 494 1254 Q 505 1241 529 1241 Q 510 1245 494 1254 Z" fill="#6b6b6b" stroke="#6b6b6b" stroke-width="2.5"/><path d="M 175 1327 L 376 1377 L 554 1290" stroke="#e31e24" stroke-width="4.5"/>
<path d="M 200 1322 L 175 1327 L 186 1346" stroke="#e31e24" stroke-width="4"/>
<path d="M 533 1290 L 554 1290 L 545 1312" stroke="#e31e24" stroke-width="4"/>
</g>
<text x="559" y="1258" font-weight="bold" font-size="58" fill="#666" stroke="#fdfdfd" stroke-width="1" textLength="245" lengthAdjust="spacingAndGlyphs">270 x 113</text>
</svg>
</body></html>
